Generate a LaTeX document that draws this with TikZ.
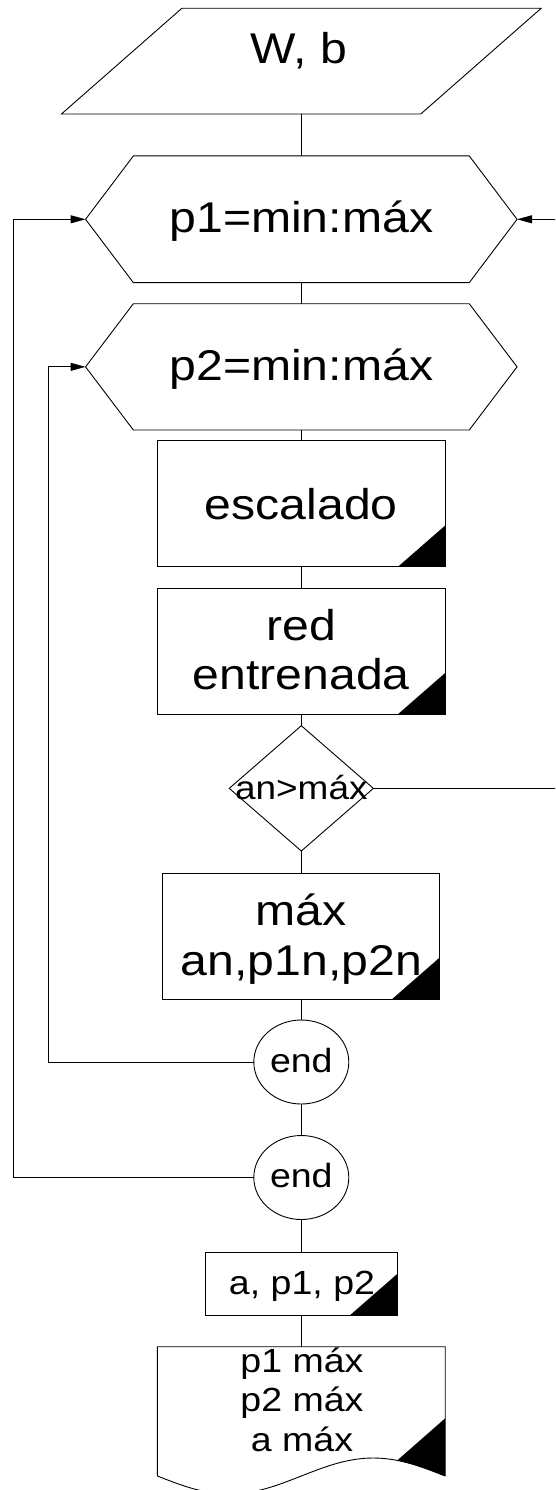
\documentclass[tikz,border=0pt]{standalone}
\usepackage{fontspec}
\setmainfont{Liberation Sans}[FakeStretch=1.12]
\usetikzlibrary{arrows.meta,shapes.geometric}

% hexagonal loop header drawn round a frame node
\newcommand\drawhex[1]{%
  \draw (#1.west) -- ([xshift=47.8pt]#1.north west) -- ([xshift=-47.8pt]#1.north east)
    -- (#1.east) -- ([xshift=-47.8pt]#1.south east) -- ([xshift=47.8pt]#1.south west) -- cycle;}
% black corner flag of a subprocess box
\newcommand\cornerflag[1]{%
  \fill ([xshift=-47.5pt]#1.south east) -- (#1.south east) -- ([yshift=41.5pt]#1.south east) -- cycle;}

\begin{document}
\begin{tikzpicture}[x=1pt,y=-1pt,line width=0.9pt,
  frame/.style 2 args={minimum width=#1, minimum height=#2, inner sep=0pt, outer sep=0pt},
  procbox/.style={draw, frame={#1}{126pt}},
  endcirc/.style={draw, ellipse, frame={95pt}{84pt}},
  lbl/.style={inner sep=0pt, anchor=base, font=\fontsize{43pt}{50pt}\selectfont},
  lblsmall/.style={inner sep=0pt, anchor=base, font=\fontsize{33.5pt}{40pt}\selectfont},
  arr/.style={-{Triangle[length=15pt,width=8pt]}}]

\useasboundingbox (0,0) rectangle (555,1490);
\clip (0,0) rectangle (555,1490);

% input parallelogram
\node[frame={479.7pt}{105.7pt}] (inp) at (301.3,61.15) {};
\draw (inp.south west) -- ([xshift=120.4pt]inp.north west) -- (inp.north east)
  -- ([xshift=-120.4pt]inp.south east) -- cycle;
\node[lbl] (inptxt) at (299,63.5) {W, b};

% outer loop
\node[frame={431.5pt}{126.7pt}] (h1) at (301.3,219.3) {};
\drawhex{h1}
\node[lbl] (h1txt) at (301.3,232.5) {p1=min:máx};

% inner loop
\node[frame={431.5pt}{126.3pt}] (h2) at (301.3,366.85) {};
\drawhex{h2}
\node[lbl] (h2txt) at (301.3,380) {p2=min:máx};

% scaling
\node[procbox={288.1pt}] (r1) at (301.3,503.85) {};
\cornerflag{r1}
\node[lbl] (r1txt) at (301.3,519.3) {escalado};

% trained network
\node[procbox={288.1pt}] (r2) at (301.3,651.3) {};
\cornerflag{r2}
\node[lbl] (r2txta) at (301.3,640) {red};
\node[lbl] (r2txtb) at (301.3,689) {entrenada};

% decision
\node[frame={144.1pt}{125.3pt}] (d) at (301.3,788.35) {};
\draw (d.north) -- (d.east) -- (d.south) -- (d.west) -- cycle;
\node[inner sep=0pt, anchor=base, font=\fontsize{33pt}{40pt}\selectfont] (dtxt) at (301.3,799) {an>máx};

% store maximum
\node[procbox={276.8pt}] (r3) at (301.3,936) {};
\cornerflag{r3}
\node[lbl] (r3txta) at (301.3,925) {máx};
\node[lbl] (r3txtb) at (301.3,975) {an,p1n,p2n};

% loop ends
\node[endcirc] (e1) at (301.3,1062) {};
\node[lblsmall] (e1txt) at (301.3,1072) {end};
\node[endcirc] (e2) at (301.3,1177.5) {};
\node[lblsmall] (e2txt) at (301.3,1187.5) {end};

% result
\node[draw, frame={192.2pt}{63pt}] (r4) at (301.3,1283.8) {};
\cornerflag{r4}
\node[lblsmall] (r4txt) at (302,1294.5) {a, p1, p2};

% output document
\node[frame={287.8pt}{129.3pt}] (doc) at (301.3,1411.35) {};
\draw (doc.south west) -- (doc.north west) -- (doc.north east) -- (doc.south east)
  -- plot[domain=360:0,samples=73] ({157.4+0.7994*\x},{1476+18*sin(\x)});
\fill (397.2,1460.4) -- (445.2,1418.3) -- (445.2,1476)
  -- plot[domain=360:300,samples=20] ({157.4+0.7994*\x},{1476+18*sin(\x)}) -- cycle;
\node[lblsmall] (doctxta) at (302,1372) {p1 máx};
\node[lblsmall] (doctxtb) at (302,1411) {p2 máx};
\node[lblsmall] (doctxtc) at (302,1451) {a máx};

% main flow
\draw (inp.south) -- (h1.north);
\draw (h1.south) -- (h2.north);
\draw (h2.south) -- (r1.north);
\draw (r1.south) -- (r2.north);
\draw (r2.south) -- (d.north);
\draw (d.south) -- (r3.north);
\draw (r3.south) -- (e1.north);
\draw (e1.south) -- (e2.north);
\draw (e2.south) -- (r4.north);
\draw (r4.south) -- (doc.north);

% loop returns
\coordinate (outerx) at (13.5,0);
\coordinate (innerx) at (48.8,0);
\coordinate (rightx) at (562,0);
\draw[arr] (e2.west) -- (e2.west -| outerx) -- (h1.west -| outerx) -- (h1.west);
\draw[arr] (e1.west) -- (e1.west -| innerx) -- (h2.west -| innerx) -- (h2.west);
\draw[arr] (d.east) -- (d.east -| rightx) -- (h1.east -| rightx) -- (h1.east);
\end{tikzpicture}
\end{document}
